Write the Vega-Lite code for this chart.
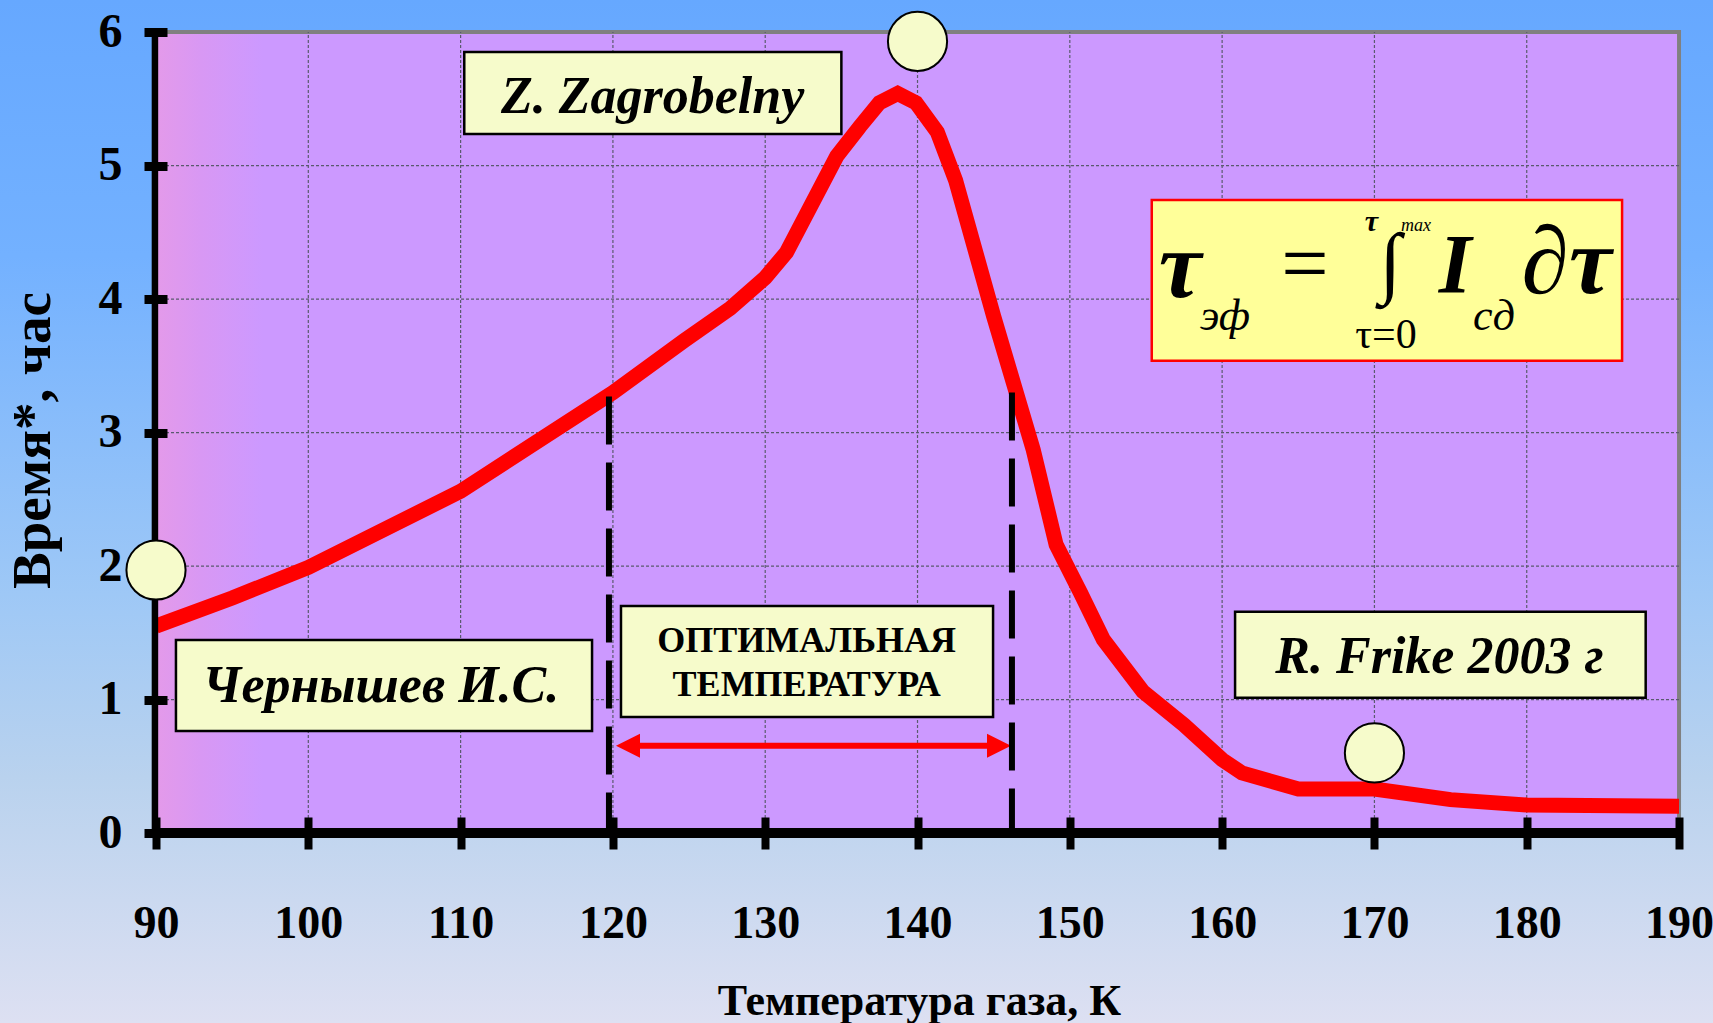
{
  "$schema": "https://vega.github.io/schema/vega-lite/v6.json",
  "width": 1713,
  "height": 1023,
  "autosize": "none",
  "padding": 0,
  "background": "#a0c6f4",
  "view": {
    "stroke": null,
    "fill": {"gradient": "linear", "x1": 0, "y1": 0, "x2": 0, "y2": 1,
      "stops": [
        {"offset": 0, "color": "#66a8ff"},
        {"offset": 0.25, "color": "#73b1ff"},
        {"offset": 0.58, "color": "#9ec8f6"},
        {"offset": 0.76, "color": "#b9d2ee"},
        {"offset": 1, "color": "#dde0f2"}
      ]}
  },
  "config": {"font": "Liberation Serif", "view": {"stroke": null}},
  "data": {"values": [{}]},
  "layer": [
    {
      "mark": {"type": "rect", "stroke": "#808080", "strokeWidth": 4,
        "fill": {"gradient": "linear", "x1": 0, "y1": 0, "x2": 1, "y2": 0,
          "stops": [
            {"offset": 0, "color": "#e49aea"},
            {"offset": 0.03, "color": "#d898f4"},
            {"offset": 0.07, "color": "#cc99ff"},
            {"offset": 1, "color": "#cc99ff"}
          ]}},
      "encoding": {
        "x": {"datum": 90, "type": "quantitative",
          "scale": {"domain": [79.757, 192.23], "nice": false, "zero": false},
          "axis": {"values": [90, 100, 110, 120, 130, 140, 150, 160, 170, 180, 190], "format": "d",
            "orient": "bottom", "offset": -206, "zindex": 1, "domain": false, "grid": false,
            "ticks": true, "tickSize": 32, "tickWidth": 8, "tickColor": "#000000",
            "labelFont": "Liberation Serif", "labelFontWeight": "bold", "labelFontSize": 46,
            "labelColor": "#000000", "labelPadding": 88, "labelBaseline": "alphabetic",
            "labelFlush": false, "labelOverlap": false, "labelBound": false,
            "title": "Температура газа, К", "titleFont": "Liberation Serif",
            "titleFontSize": 44, "titleFontWeight": "bold", "titleColor": "#000000",
            "titleX": 919, "titleY": 197, "titleAlign": "center", "titleBaseline": "alphabetic"}},
        "x2": {"datum": 190},
        "y": {"datum": 0, "type": "quantitative",
          "scale": {"domain": [-1.423, 6.24], "nice": false, "zero": false},
          "axis": {"values": [0, 1, 2, 3, 4, 5, 6], "format": "d",
            "orient": "left", "offset": -167, "zindex": 1, "domain": false, "grid": false,
            "ticks": true, "tickSize": 23, "tickWidth": 9, "tickColor": "#000000",
            "tickOpacity": {"condition": {"test": "datum.value === 2", "value": 0}, "value": 1},
            "labelFont": "Liberation Serif", "labelFontWeight": "bold", "labelFontSize": 48,
            "labelColor": "#000000", "labelPadding": 22, "labelBaseline": "middle",
            "labelFlush": false, "labelOverlap": false, "labelBound": false,
            "title": "Время*, час", "titleFont": "Liberation Serif",
            "titleFontSize": 55, "titleFontWeight": "bold", "titleColor": "#000000",
            "titleAngle": 270, "titleX": -118, "titleY": 440, "titleAlign": "center",
            "titleBaseline": "alphabetic"}},
        "y2": {"datum": 6}
      }
    },
    {
      "data": {"values": [{"T": 100}, {"T": 110}, {"T": 120}, {"T": 130}, {"T": 140}, {"T": 150}, {"T": 160}, {"T": 170}, {"T": 180}]},
      "mark": {"type": "rule", "color": "#5a5a6e", "strokeWidth": 1.2, "strokeDash": [3, 2]},
      "encoding": {
        "x": {"field": "T", "type": "quantitative", "scale": {"domain": [79.757, 192.23], "nice": false, "zero": false}},
        "y": {"datum": 0, "type": "quantitative", "scale": {"domain": [-1.423, 6.24], "nice": false, "zero": false}},
        "y2": {"datum": 6}
      }
    },
    {
      "data": {"values": [{"h": 1}, {"h": 2}, {"h": 3}, {"h": 4}, {"h": 5}]},
      "mark": {"type": "rule", "color": "#5a5a6e", "strokeWidth": 1.2, "strokeDash": [3, 2]},
      "encoding": {
        "x": {"datum": 90, "type": "quantitative", "scale": {"domain": [79.757, 192.23], "nice": false, "zero": false}},
        "x2": {"datum": 190},
        "y": {"field": "h", "type": "quantitative", "scale": {"domain": [-1.423, 6.24], "nice": false, "zero": false}}
      }
    },
    {
      "mark": {"type": "rect", "fill": "#f6fbcb", "stroke": "#000000", "strokeWidth": 2.5},
      "encoding": {
        "x": {"datum": 110.24, "type": "quantitative", "scale": {"domain": [79.757, 192.23], "nice": false, "zero": false}},
        "x2": {"datum": 135.0},
        "y": {"datum": 5.85, "type": "quantitative", "scale": {"domain": [-1.423, 6.24], "nice": false, "zero": false}},
        "y2": {"datum": 5.236}
      }
    },
    {
      "mark": {"type": "rect", "fill": "#f6fbcb", "stroke": "#000000", "strokeWidth": 2.5},
      "encoding": {
        "x": {"datum": 91.31, "type": "quantitative", "scale": {"domain": [79.757, 192.23], "nice": false, "zero": false}},
        "x2": {"datum": 118.63},
        "y": {"datum": 1.446, "type": "quantitative", "scale": {"domain": [-1.423, 6.24], "nice": false, "zero": false}},
        "y2": {"datum": 0.764}
      }
    },
    {
      "mark": {"type": "rect", "fill": "#f6fbcb", "stroke": "#000000", "strokeWidth": 2.5},
      "encoding": {
        "x": {"datum": 120.53, "type": "quantitative", "scale": {"domain": [79.757, 192.23], "nice": false, "zero": false}},
        "x2": {"datum": 144.96},
        "y": {"datum": 1.7, "type": "quantitative", "scale": {"domain": [-1.423, 6.24], "nice": false, "zero": false}},
        "y2": {"datum": 0.869}
      }
    },
    {
      "mark": {"type": "rect", "fill": "#f6fbcb", "stroke": "#000000", "strokeWidth": 2.5},
      "encoding": {
        "x": {"datum": 160.85, "type": "quantitative", "scale": {"domain": [79.757, 192.23], "nice": false, "zero": false}},
        "x2": {"datum": 187.81},
        "y": {"datum": 1.658, "type": "quantitative", "scale": {"domain": [-1.423, 6.24], "nice": false, "zero": false}},
        "y2": {"datum": 1.013}
      }
    },
    {
      "mark": {"type": "rect", "fill": "#ffff99", "stroke": "#ff0000", "strokeWidth": 2.5},
      "encoding": {
        "x": {"datum": 155.38, "type": "quantitative", "scale": {"domain": [79.757, 192.23], "nice": false, "zero": false}},
        "x2": {"datum": 186.26},
        "y": {"datum": 4.742, "type": "quantitative", "scale": {"domain": [-1.423, 6.24], "nice": false, "zero": false}},
        "y2": {"datum": 3.538}
      }
    },
    {
      "mark": {"type": "text", "text": "Z. Zagrobelny", "font": "Liberation Serif", "fontSize": 52, "fontWeight": "bold", "fontStyle": "italic", "color": "#000000", "align": "center", "baseline": "alphabetic"},
      "encoding": {
        "x": {"datum": 122.61, "type": "quantitative", "scale": {"domain": [79.757, 192.23], "nice": false, "zero": false}},
        "y": {"datum": 5.39, "type": "quantitative", "scale": {"domain": [-1.423, 6.24], "nice": false, "zero": false}}
      }
    },
    {
      "mark": {"type": "text", "text": "Чернышев И.С.", "font": "Liberation Serif", "fontSize": 52, "fontWeight": "bold", "fontStyle": "italic", "color": "#000000", "align": "center", "baseline": "alphabetic"},
      "encoding": {
        "x": {"datum": 104.77, "type": "quantitative", "scale": {"domain": [79.757, 192.23], "nice": false, "zero": false}},
        "y": {"datum": 0.984, "type": "quantitative", "scale": {"domain": [-1.423, 6.24], "nice": false, "zero": false}}
      }
    },
    {
      "mark": {"type": "text", "text": "R. Frike 2003 г", "font": "Liberation Serif", "fontSize": 52, "fontWeight": "bold", "fontStyle": "italic", "color": "#000000", "align": "center", "baseline": "alphabetic"},
      "encoding": {
        "x": {"datum": 174.27, "type": "quantitative", "scale": {"domain": [79.757, 192.23], "nice": false, "zero": false}},
        "y": {"datum": 1.196, "type": "quantitative", "scale": {"domain": [-1.423, 6.24], "nice": false, "zero": false}}
      }
    },
    {
      "mark": {"type": "text", "text": "ОПТИМАЛЬНАЯ", "font": "Liberation Serif", "fontSize": 36, "fontWeight": "bold", "color": "#000000", "align": "center", "baseline": "alphabetic"},
      "encoding": {
        "x": {"datum": 132.72, "type": "quantitative", "scale": {"domain": [79.757, 192.23], "nice": false, "zero": false}},
        "y": {"datum": 1.358, "type": "quantitative", "scale": {"domain": [-1.423, 6.24], "nice": false, "zero": false}}
      }
    },
    {
      "mark": {"type": "text", "text": "ТЕМПЕРАТУРА", "font": "Liberation Serif", "fontSize": 36, "fontWeight": "bold", "color": "#000000", "align": "center", "baseline": "alphabetic"},
      "encoding": {
        "x": {"datum": 132.72, "type": "quantitative", "scale": {"domain": [79.757, 192.23], "nice": false, "zero": false}},
        "y": {"datum": 1.026, "type": "quantitative", "scale": {"domain": [-1.423, 6.24], "nice": false, "zero": false}}
      }
    },
    {
      "mark": {"type": "text", "text": "τ", "font": "Liberation Serif", "fontSize": 96, "fontWeight": "bold", "fontStyle": "italic", "color": "#000000", "align": "center", "baseline": "alphabetic"},
      "encoding": {
        "x": {"datum": 157.24, "type": "quantitative", "scale": {"domain": [79.757, 192.23], "nice": false, "zero": false}},
        "y": {"datum": 4.015, "type": "quantitative", "scale": {"domain": [-1.423, 6.24], "nice": false, "zero": false}}
      }
    },
    {
      "mark": {"type": "text", "text": "эф", "font": "Liberation Serif", "fontSize": 44, "fontStyle": "italic", "color": "#000000", "align": "center", "baseline": "alphabetic"},
      "encoding": {
        "x": {"datum": 160.19, "type": "quantitative", "scale": {"domain": [79.757, 192.23], "nice": false, "zero": false}},
        "y": {"datum": 3.768, "type": "quantitative", "scale": {"domain": [-1.423, 6.24], "nice": false, "zero": false}}
      }
    },
    {
      "mark": {"type": "text", "text": "=", "font": "Liberation Serif", "fontSize": 84, "color": "#000000", "align": "center", "baseline": "alphabetic"},
      "encoding": {
        "x": {"datum": 165.44, "type": "quantitative", "scale": {"domain": [79.757, 192.23], "nice": false, "zero": false}},
        "y": {"datum": 4.052, "type": "quantitative", "scale": {"domain": [-1.423, 6.24], "nice": false, "zero": false}}
      }
    },
    {
      "mark": {"type": "text", "text": "∫", "font": "Liberation Serif", "fontSize": 79, "color": "#000000", "align": "center", "baseline": "alphabetic"},
      "encoding": {
        "x": {"datum": 171.03, "type": "quantitative", "scale": {"domain": [79.757, 192.23], "nice": false, "zero": false}},
        "y": {"datum": 4.082, "type": "quantitative", "scale": {"domain": [-1.423, 6.24], "nice": false, "zero": false}}
      }
    },
    {
      "mark": {"type": "text", "text": "τ", "font": "Liberation Serif", "fontSize": 30, "fontWeight": "bold", "fontStyle": "italic", "color": "#000000", "align": "center", "baseline": "alphabetic"},
      "encoding": {
        "x": {"datum": 169.8, "type": "quantitative", "scale": {"domain": [79.757, 192.23], "nice": false, "zero": false}},
        "y": {"datum": 4.51, "type": "quantitative", "scale": {"domain": [-1.423, 6.24], "nice": false, "zero": false}}
      }
    },
    {
      "mark": {"type": "text", "text": "max", "font": "Liberation Serif", "fontSize": 18, "fontStyle": "italic", "color": "#000000", "align": "left", "baseline": "alphabetic"},
      "encoding": {
        "x": {"datum": 171.75, "type": "quantitative", "scale": {"domain": [79.757, 192.23], "nice": false, "zero": false}},
        "y": {"datum": 4.51, "type": "quantitative", "scale": {"domain": [-1.423, 6.24], "nice": false, "zero": false}}
      }
    },
    {
      "mark": {"type": "text", "text": "τ=0", "font": "Liberation Serif", "fontSize": 42, "color": "#000000", "align": "center", "baseline": "alphabetic"},
      "encoding": {
        "x": {"datum": 170.76, "type": "quantitative", "scale": {"domain": [79.757, 192.23], "nice": false, "zero": false}},
        "y": {"datum": 3.633, "type": "quantitative", "scale": {"domain": [-1.423, 6.24], "nice": false, "zero": false}}
      }
    },
    {
      "mark": {"type": "text", "text": "I", "font": "Liberation Serif", "fontSize": 84, "fontWeight": "bold", "fontStyle": "italic", "color": "#000000", "align": "center", "baseline": "alphabetic"},
      "encoding": {
        "x": {"datum": 175.29, "type": "quantitative", "scale": {"domain": [79.757, 192.23], "nice": false, "zero": false}},
        "y": {"datum": 4.045, "type": "quantitative", "scale": {"domain": [-1.423, 6.24], "nice": false, "zero": false}}
      }
    },
    {
      "mark": {"type": "text", "text": "cд", "font": "Liberation Serif", "fontSize": 44, "fontStyle": "italic", "color": "#000000", "align": "center", "baseline": "alphabetic"},
      "encoding": {
        "x": {"datum": 177.85, "type": "quantitative", "scale": {"domain": [79.757, 192.23], "nice": false, "zero": false}},
        "y": {"datum": 3.768, "type": "quantitative", "scale": {"domain": [-1.423, 6.24], "nice": false, "zero": false}}
      }
    },
    {
      "mark": {"type": "text", "text": "∂τ", "font": "Liberation Serif", "fontSize": 96, "fontWeight": "bold", "fontStyle": "italic", "color": "#000000", "align": "center", "baseline": "alphabetic"},
      "encoding": {
        "x": {"datum": 182.61, "type": "quantitative", "scale": {"domain": [79.757, 192.23], "nice": false, "zero": false}},
        "y": {"datum": 4.045, "type": "quantitative", "scale": {"domain": [-1.423, 6.24], "nice": false, "zero": false}}
      }
    },
    {
      "mark": {"type": "rule", "color": "#ff0000", "strokeWidth": 6},
      "encoding": {
        "x": {"datum": 120.99, "type": "quantitative", "scale": {"domain": [79.757, 192.23], "nice": false, "zero": false}},
        "x2": {"datum": 145.35},
        "y": {"datum": 0.654, "type": "quantitative", "scale": {"domain": [-1.423, 6.24], "nice": false, "zero": false}}
      }
    },
    {
      "mark": {"type": "point", "shape": "M1,-1L-1,0L1,1Z", "filled": true, "fill": "#ff0000", "strokeWidth": 0, "opacity": 1, "size": 576},
      "encoding": {
        "x": {"datum": 120.99, "type": "quantitative", "scale": {"domain": [79.757, 192.23], "nice": false, "zero": false}},
        "y": {"datum": 0.654, "type": "quantitative", "scale": {"domain": [-1.423, 6.24], "nice": false, "zero": false}}
      }
    },
    {
      "mark": {"type": "point", "shape": "M-1,-1L1,0L-1,1Z", "filled": true, "fill": "#ff0000", "strokeWidth": 0, "opacity": 1, "size": 576},
      "encoding": {
        "x": {"datum": 145.35, "type": "quantitative", "scale": {"domain": [79.757, 192.23], "nice": false, "zero": false}},
        "y": {"datum": 0.654, "type": "quantitative", "scale": {"domain": [-1.423, 6.24], "nice": false, "zero": false}}
      }
    },
    {
      "data": {"values": [
        {"T": 90, "t": 1.55}, {"T": 95, "t": 1.76}, {"T": 100, "t": 1.99}, {"T": 110, "t": 2.56},
        {"T": 120, "t": 3.30}, {"T": 124.7, "t": 3.69}, {"T": 127.7, "t": 3.93}, {"T": 130, "t": 4.16},
        {"T": 131.4, "t": 4.35}, {"T": 134.7, "t": 5.07}, {"T": 136.2, "t": 5.29}, {"T": 137.5, "t": 5.47},
        {"T": 138.7, "t": 5.54}, {"T": 139.9, "t": 5.47}, {"T": 141.3, "t": 5.25}, {"T": 142.5, "t": 4.89},
        {"T": 145, "t": 3.87}, {"T": 147.6, "t": 2.87}, {"T": 149.1, "t": 2.16}, {"T": 150.7, "t": 1.80},
        {"T": 152.2, "t": 1.45}, {"T": 154.8, "t": 1.06}, {"T": 157.5, "t": 0.81}, {"T": 160, "t": 0.55},
        {"T": 161.3, "t": 0.45}, {"T": 165, "t": 0.33}, {"T": 170, "t": 0.33}, {"T": 175, "t": 0.25},
        {"T": 180, "t": 0.21}, {"T": 190, "t": 0.20}
      ]},
      "mark": {"type": "line", "color": "#ff0000", "strokeWidth": 15, "strokeJoin": "miter", "strokeCap": "butt"},
      "encoding": {
        "x": {"field": "T", "type": "quantitative", "scale": {"domain": [79.757, 192.23], "nice": false, "zero": false}},
        "y": {"field": "t", "type": "quantitative", "scale": {"domain": [-1.423, 6.24], "nice": false, "zero": false}}
      }
    },
    {
      "mark": {"type": "rule", "color": "#000000", "strokeWidth": 6, "strokeDash": [48, 18]},
      "encoding": {
        "x": {"datum": 119.74, "type": "quantitative", "scale": {"domain": [79.757, 192.23], "nice": false, "zero": false}},
        "y": {"datum": 3.27, "type": "quantitative", "scale": {"domain": [-1.423, 6.24], "nice": false, "zero": false}},
        "y2": {"datum": 0}
      }
    },
    {
      "mark": {"type": "rule", "color": "#000000", "strokeWidth": 6, "strokeDash": [48, 18]},
      "encoding": {
        "x": {"datum": 146.2, "type": "quantitative", "scale": {"domain": [79.757, 192.23], "nice": false, "zero": false}},
        "y": {"datum": 3.30, "type": "quantitative", "scale": {"domain": [-1.423, 6.24], "nice": false, "zero": false}},
        "y2": {"datum": 0}
      }
    },
    {
      "mark": {"type": "rule", "color": "#000000", "strokeWidth": 6.5},
      "encoding": {
        "x": {"datum": 89.93, "type": "quantitative", "scale": {"domain": [79.757, 192.23], "nice": false, "zero": false}},
        "y": {"datum": 0, "type": "quantitative", "scale": {"domain": [-1.423, 6.24], "nice": false, "zero": false}},
        "y2": {"datum": 6}
      }
    },
    {
      "mark": {"type": "rule", "color": "#000000", "strokeWidth": 10},
      "encoding": {
        "x": {"datum": 89.74, "type": "quantitative", "scale": {"domain": [79.757, 192.23], "nice": false, "zero": false}},
        "x2": {"datum": 190.25},
        "y": {"datum": 0, "type": "quantitative", "scale": {"domain": [-1.423, 6.24], "nice": false, "zero": false}}
      }
    },
    {
      "data": {"values": [{"T": 90, "t": 1.97}, {"T": 140, "t": 5.93}, {"T": 170, "t": 0.6}]},
      "mark": {"type": "point", "shape": "circle", "filled": true, "fill": "#f6fbcb", "stroke": "#000000", "strokeWidth": 2, "opacity": 1, "size": 3500},
      "encoding": {
        "x": {"field": "T", "type": "quantitative", "scale": {"domain": [79.757, 192.23], "nice": false, "zero": false}},
        "y": {"field": "t", "type": "quantitative", "scale": {"domain": [-1.423, 6.24], "nice": false, "zero": false}}
      }
    }
  ]
}
